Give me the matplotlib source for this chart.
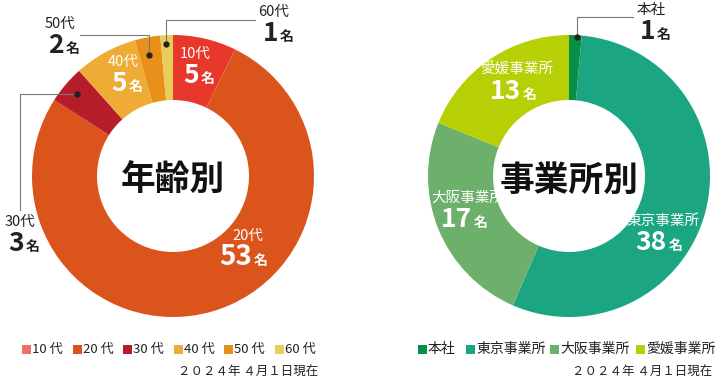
import matplotlib.pyplot as plt
from matplotlib.patches import Rectangle

plt.rcParams['font.family'] = ['Noto Sans CJK JP', 'DejaVu Sans']

age_labels = ['10 代', '20 代', '30 代', '40 代', '50 代', '60 代']
age_counts = [5, 53, 3, 5, 2, 1]
age_colors = ['#e8372b', '#db541b', '#b71c2b', '#eeab36', '#e8901a', '#e9cd5a']
age_legend_colors = ['#f07068', '#db541b', '#b71c2b', '#eeab36', '#e8901a', '#e9cd5a']

office_labels = ['本社', '東京事業所', '大阪事業所', '愛媛事業所']
office_counts = [1, 38, 17, 13]
office_colors = ['#0a8f45', '#1ba581', '#6db06c', '#b7cf05']

date_text = '２０２４年 ４月１日現在'

W, H = 720, 384


def Y(y):
    # pixel row (from top) -> data y
    return H - y


def count_label(ax, x, y, name, n, color, size=19):
    # "20代" over "53名"
    ax.text(x, Y(y), name, color=color, fontsize=10.5, ha='center', va='baseline')
    ax.text(x + 4, Y(y + 25), str(n), color=color, fontsize=size,
            fontweight='bold', ha='right', va='baseline')
    ax.text(x + 6, Y(y + 25), '名', color=color, fontsize=10,
            fontweight='bold', ha='left', va='baseline')


def leader(ax, pts):
    xs = [p[0] for p in pts]
    ys = [Y(p[1]) for p in pts]
    ax.plot(xs, ys, color='#777777', lw=0.8)
    ax.plot(xs[0], ys[0], 'o', color='#222222', ms=3.5)


def legend_row(ax, x0s, y, labels, colors, size=9.5):
    for x, lab, c in zip(x0s, labels, colors):
        ax.add_patch(Rectangle((x, Y(y) - 4.5), 9, 9, color=c, lw=0))
        ax.text(x + 10, Y(y), lab, fontsize=size, color='#222222',
                ha='left', va='center')


fig = plt.figure(figsize=(7.2, 3.84), dpi=100)
ax = fig.add_axes([0, 0, 1, 1])

ax.pie(age_counts, colors=age_colors, startangle=90, counterclock=False,
       radius=141, center=(173, Y(176)),
       wedgeprops=dict(width=65, linewidth=0))
ax.pie(office_counts, colors=office_colors, startangle=90, counterclock=False,
       radius=141, center=(569, Y(176)),
       wedgeprops=dict(width=65, linewidth=0))

ax.set_xlim(0, W)
ax.set_ylim(0, H)
ax.set_aspect('equal')
ax.axis('off')

# center titles
ax.text(173, Y(180), '年齢別', fontsize=25, fontweight='bold',
        ha='center', va='center', color='#111111')
ax.text(569, Y(180), '事業所別', fontsize=25, fontweight='bold',
        ha='center', va='center', color='#111111')

# left chart labels
count_label(ax, 195, 58, '10代', 5, 'white')
count_label(ax, 123, 66, '40代', 5, 'white')
count_label(ax, 248, 240, '20代', 53, 'white', size=20)
count_label(ax, 60, 28, '50代', 2, '#222222')
count_label(ax, 274, 16, '60代', 1, '#222222')
count_label(ax, 20, 226, '30代', 3, '#222222')
leader(ax, [(149, 55), (149, 35), (80, 35)])
leader(ax, [(166, 44), (166, 20), (255, 20)])
leader(ax, [(77, 94), (20, 94), (20, 210)])

# right chart labels
count_label(ax, 517, 74, '愛媛事業所', 13, 'white')
count_label(ax, 468, 202, '大阪事業所', 17, 'white')
count_label(ax, 663, 225, '東京事業所', 38, 'white')
count_label(ax, 651, 14, '本社', 1, '#222222')
leader(ax, [(577, 37), (577, 17), (633, 17)])

# legends
legend_row(ax, [22, 73, 123, 174, 224, 275], 349, age_labels, age_legend_colors)
legend_row(ax, [418, 466, 550, 636], 349, office_labels, office_colors, size=10)

ax.text(318, Y(372), date_text, fontsize=9, ha='right', va='center', color='#222222')
ax.text(712, Y(372), date_text, fontsize=9, ha='right', va='center', color='#222222')

fig.savefig('out.png', dpi=100)
